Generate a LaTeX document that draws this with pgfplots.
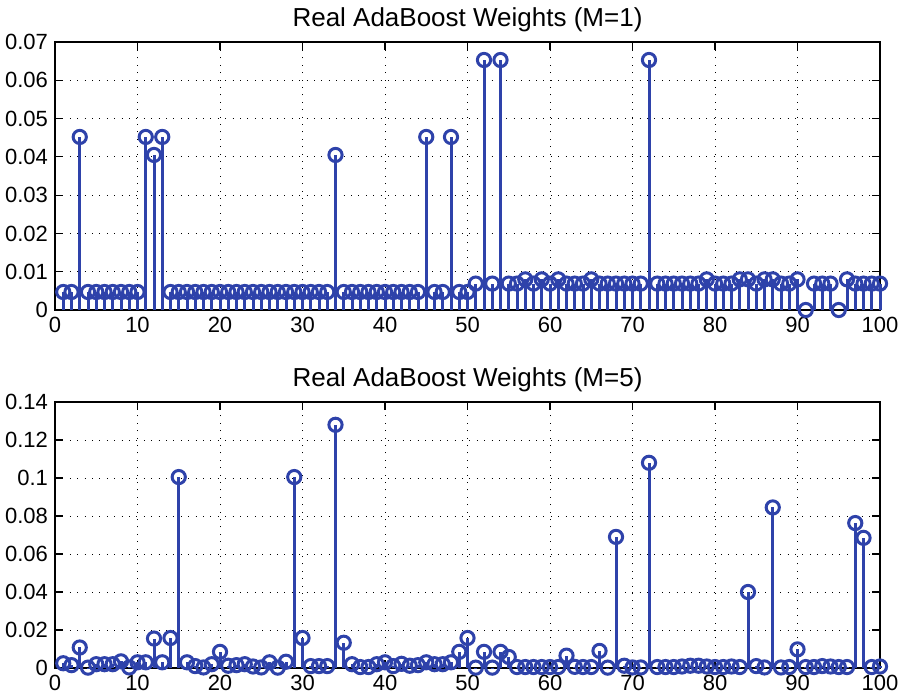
\documentclass[border=0pt]{standalone}
\usepackage{fontspec}
\setmainfont{Liberation Sans}
\usepackage{pgfplots}
\pgfplotsset{compat=1.18}
\definecolor{stemblue}{RGB}{46,66,170}
\pgfplotsset{mystyle/.style={
  scale only axis, width=412.5pt, xmin=0, xmax=100, clip=false,
  xtick={0,10,20,30,40,50,60,70,80,90,100},
  grid=major,
  major grid style={black, line width=0.5pt, dash pattern=on 0.5pt off 3.2pt},
  axis line style={black, line width=0.8pt},
  tick style={black, line width=0.6pt}, major tick length=4pt,
  tick label style={font=\fontsize{11}{13}\selectfont},
  /pgf/number format/assume math mode=true,
  yticklabel style={/pgf/number format/fixed, /pgf/number format/precision=2},
  scaled y ticks=false,
  title style={font=\fontsize{13}{15}\selectfont, at={(0.5,1)}, anchor=base, yshift=2pt},
}}
\pgfplotsset{stemstyle/.style={stemblue, line width=1.5pt, ycomb, mark=o, mark size=3.3pt, mark options={solid, line width=1.5pt}}}
\begin{document}
\begin{tikzpicture}
\begin{axis}[mystyle, height=134pt, ymin=0, ymax=0.07,
  ytick={0,0.01,0.02,0.03,0.04,0.05,0.06,0.07},
  title={Real AdaBoost Weights (M=1)},
  at={(27.5pt,193.5pt)}, anchor=south west]
\addplot[stemstyle] coordinates {
(1,0.0047)(2,0.0047)(3,0.0452)(4,0.0047)(5,0.0047)(6,0.0047)(7,0.0047)(8,0.0047)(9,0.0047)(10,0.0047)
(11,0.0452)(12,0.0405)(13,0.0452)(14,0.0047)(15,0.0047)(16,0.0047)(17,0.0047)(18,0.0047)(19,0.0047)(20,0.0047)
(21,0.0047)(22,0.0047)(23,0.0047)(24,0.0047)(25,0.0047)(26,0.0047)(27,0.0047)(28,0.0047)(29,0.0047)(30,0.0047)
(31,0.0047)(32,0.0047)(33,0.0047)(34,0.0405)(35,0.0047)(36,0.0047)(37,0.0047)(38,0.0047)(39,0.0047)(40,0.0047)
(41,0.0047)(42,0.0047)(43,0.0047)(44,0.0047)(45,0.0452)(46,0.0047)(47,0.0047)(48,0.0452)(49,0.0047)(50,0.0047)
(51,0.0069)(52,0.0653)(53,0.0069)(54,0.0653)(55,0.0069)(56,0.0069)(57,0.0080)(58,0.0069)(59,0.0080)(60,0.0069)
(61,0.0080)(62,0.0069)(63,0.0069)(64,0.0069)(65,0.0080)(66,0.0069)(67,0.0069)(68,0.0069)(69,0.0069)(70,0.0069)
(71,0.0069)(72,0.0653)(73,0.0069)(74,0.0069)(75,0.0069)(76,0.0069)(77,0.0069)(78,0.0069)(79,0.0080)(80,0.0069)
(81,0.0069)(82,0.0069)(83,0.0080)(84,0.0080)(85,0.0069)(86,0.0080)(87,0.0080)(88,0.0069)(89,0.0069)(90,0.0080)
(91,0)(92,0.0069)(93,0.0069)(94,0.0069)(95,0)(96,0.0080)(97,0.0069)(98,0.0069)(99,0.0069)(100,0.0069)
};
\end{axis}
\begin{axis}[mystyle, height=133pt, ymin=0, ymax=0.14,
  ytick={0,0.02,0.04,0.06,0.08,0.1,0.12,0.14},
  title={Real AdaBoost Weights (M=5)},
  at={(27.5pt,14.5pt)}, anchor=south west]
\addplot[stemstyle] coordinates {
(1,0.0025)(2,0.0015)(3,0.0108)(4,0.0002)(5,0.0020)(6,0.0020)(7,0.0020)(8,0.0035)(9,0.0003)(10,0.0030)
(11,0.0030)(12,0.0155)(13,0.0030)(14,0.0158)(15,0.1005)(16,0.0030)(17,0.0010)(18,0.0003)(19,0.0020)(20,0.0085)
(21,0.0012)(22,0.0015)(23,0.0020)(24,0.0008)(25,0.0003)(26,0.0030)(27,0.0002)(28,0.0033)(29,0.1005)(30,0.0158)
(31,0.0010)(32,0.0010)(33,0.0010)(34,0.1280)(35,0.0133)(36,0.0020)(37,0.0005)(38,0.0005)(39,0.0020)(40,0.0030)
(41,0.0010)(42,0.0022)(43,0.0012)(44,0.0015)(45,0.0030)(46,0.0020)(47,0.0020)(48,0.0030)(49,0.0085)(50,0.0158)
(51,0.0002)(52,0.0085)(53,0.0002)(54,0.0085)(55,0.0058)(56,0.0005)(57,0.0005)(58,0.0005)(59,0.0005)(60,0.0005)
(61,0.0005)(62,0.0065)(63,0.0006)(64,0.0005)(65,0.0005)(66,0.0090)(67,0.0002)(68,0.0690)(69,0.0012)(70,0.0003)
(71,0.0003)(72,0.1080)(73,0.0005)(74,0.0005)(75,0.0005)(76,0.0008)(77,0.0012)(78,0.0012)(79,0.0008)(80,0.0005)
(81,0.0005)(82,0.0008)(83,0.0005)(84,0.0400)(85,0.0010)(86,0.0003)(87,0.0845)(88,0.0003)(89,0.0005)(90,0.0098)
(91,0.0005)(92,0.0005)(93,0.0010)(94,0.0008)(95,0.0005)(96,0.0005)(97,0.0763)(98,0.0685)(99,0.0005)(100,0.0008)
};
\end{axis}
\pgfresetboundingbox
\path (0,0) rectangle (449pt,348.5pt);
\end{tikzpicture}
\end{document}
